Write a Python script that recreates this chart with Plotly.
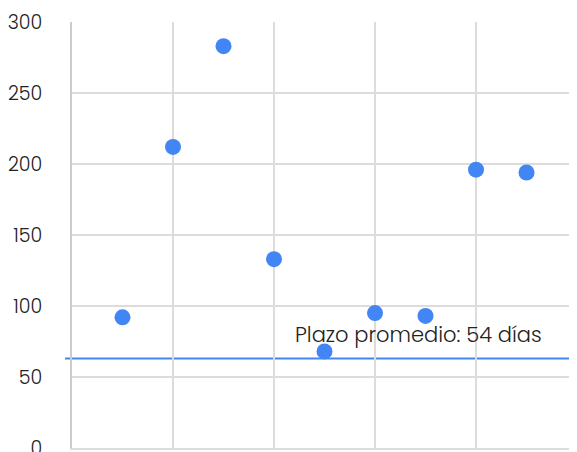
import plotly.graph_objects as go

x_vals = [1, 2, 3, 4, 5, 6, 7, 8, 9]
y_vals = [92, 212, 283, 133, 68, 95, 93, 196, 194]
avg_line = 63
avg_label = "Plazo promedio: 54 días"
y_ticks = [0, 50, 100, 150, 200, 250, 300]
x_grid = [0, 2, 4, 6, 8]

FONT = "Poppins, Lato, sans-serif"
BLUE = "#4285F4"

fig = go.Figure()
fig.add_trace(go.Scatter(
    x=x_vals, y=y_vals, mode="markers",
    marker=dict(color=BLUE, size=16, line=dict(width=0)),
    showlegend=False, cliponaxis=False,
))
fig.add_shape(type="line", xref="paper", yref="y", x0=-0.0136, x1=0.9766,
              y0=avg_line, y1=avg_line, line=dict(color=BLUE, width=2),
              layer="below")
fig.add_annotation(x=6.87, y=avg_line, yshift=24, text=avg_label,
                   showarrow=False,
                   font=dict(family=FONT, size=21, color="#222", weight=300))

fig.update_layout(
    width=577, height=444,
    margin=dict(l=64, r=0, t=14, b=4),
    paper_bgcolor="white", plot_bgcolor="white",
    font=dict(family=FONT, size=19, color="#222", weight=300),
    xaxis=dict(range=[0, 10.158], tickvals=x_grid, showticklabels=False,
               showgrid=True, gridcolor="#dcdcdc", gridwidth=2, zeroline=False,
               showline=True, linecolor="#dcdcdc", linewidth=2, automargin=False),
    yaxis=dict(range=[0, 300], tickvals=y_ticks, showgrid=True, gridcolor="#dcdcdc",
               gridwidth=2, zeroline=False, showline=True, linecolor="#cccccc",
               linewidth=2, ticks="outside", ticklen=24, tickcolor="rgba(0,0,0,0)",
               automargin=False, ticklabeloverflow="allow",
               tickfont=dict(family=FONT, size=19, color="#222", weight=300)),
)
fig.write_html("out.html")
